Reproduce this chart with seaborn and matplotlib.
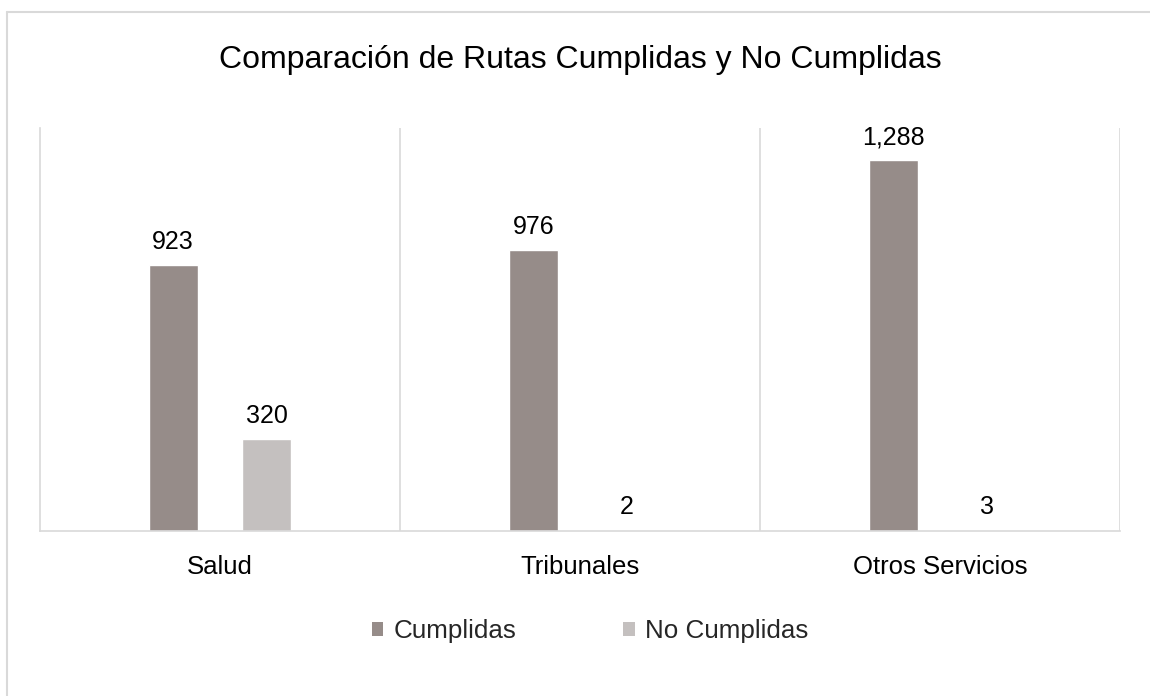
import matplotlib
matplotlib.use("Agg")
import matplotlib.pyplot as plt
import seaborn as sns
import pandas as pd
from matplotlib.patches import Patch
from matplotlib.lines import Line2D

categories = ["Salud", "Tribunales", "Otros Servicios"]
series_names = ["Cumplidas", "No Cumplidas"]
cumplidas = [923, 976, 1288]
no_cumplidas = [320, 2, 3]
title = "Comparación de Rutas Cumplidas y No Cumplidas"

colors = ["#968c89", "#c4c0bf"]

df = pd.DataFrame({
    "categoria": categories * 2,
    "serie": [series_names[0]] * 3 + [series_names[1]] * 3,
    "valor": cumplidas + no_cumplidas,
})

sns.set_theme(style="white")
plt.rcParams["font.family"] = ["Liberation Sans", "DejaVu Sans"]

fig = plt.figure(figsize=(11.5, 6.96), dpi=100)
ax = fig.add_axes([40 / 1150, 1 - 531 / 696, 1080 / 1150, 403 / 696])

sns.barplot(data=df, x="categoria", y="valor", hue="serie", order=categories,
            hue_order=series_names, palette=colors, width=0.52, gap=0.48,
            ax=ax, legend=False, saturation=1)

for cont in ax.containers:
    ax.bar_label(cont, labels=[f"{v:,.0f}" for v in cont.datavalues],
                 padding=8, fontsize=18, color="#000000")

ax.set_xlim(-0.5, 2.5)
ax.set_ylim(0, 1400)
ax.set_xlabel("")
ax.set_ylabel("")
ax.set_yticks([])
ax.tick_params(axis="x", length=0, pad=17, labelsize=18.5, labelcolor="#000000")

for s in ["top", "right"]:
    ax.spines[s].set_visible(False)
for s in ["left", "bottom"]:
    ax.spines[s].set_color("#d9d9d9")
    ax.spines[s].set_linewidth(1.2)
for xv in [0.5, 1.5, 2.5]:
    ax.axvline(xv, color="#d9d9d9", lw=1.2, zorder=0)

fig.text(580 / 1150, 1 - 60 / 696, title, ha="center", va="center",
         fontsize=23, color="#000000")

handles = [Patch(facecolor=c, edgecolor="none") for c in colors]
fig.legend(handles, series_names, loc="center", bbox_to_anchor=(590 / 1150, 1 - 631 / 696),
           ncol=2, frameon=False, fontsize=18.7, handlelength=0.45, handleheight=0.45,
           handletextpad=0.4, columnspacing=4.1)

# outer chart border (top and left visible)
fig.add_artist(Line2D([7 / 1150, 7 / 1150], [0, 1 - 12 / 696], transform=fig.transFigure,
                      color="#d9d9d9", lw=1.5))
fig.add_artist(Line2D([7 / 1150, 1], [1 - 12 / 696, 1 - 12 / 696], transform=fig.transFigure,
                      color="#d9d9d9", lw=1.5))

fig.savefig("out.png", dpi=100)
